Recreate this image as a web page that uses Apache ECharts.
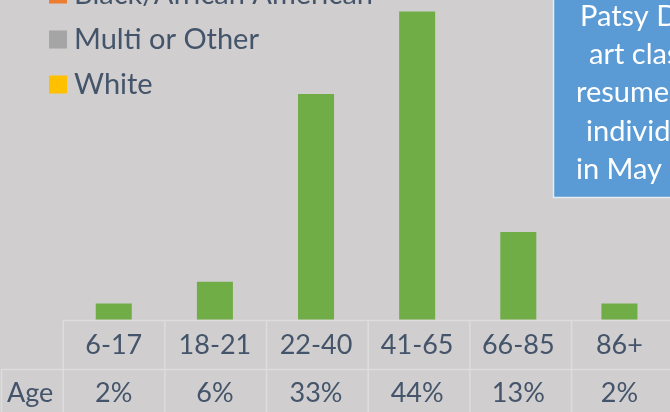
<!DOCTYPE html>
<html>
<head>
<meta charset="utf-8">
<script src="https://cdn.jsdelivr.net/npm/echarts@6/dist/echarts.min.js"></script>
<style>
html,body{margin:0;padding:0;background:#D0CECE;}
#chart{width:670px;height:412px;}
</style>
</head>
<body>
<div id="chart"></div>
<script>
// ---- data ----
const categories = ['6-17', '18-21', '22-40', '41-65', '66-85', '86+'];
const barValues = [2.3, 5.4, 32.2, 44, 12.5, 2.3];          // bar heights (%)
const tableLabels = ['2%', '6%', '33%', '44%', '13%', '2%']; // data-table row
const tableRowName = 'Age';
const legendNames = ['Black/African American', 'Multi or Other', 'White'];
const legendColors = ['#ED7D31', '#A5A5A5', '#FFC000'];
const boxLines = ['Patsy Dunn\u2019s', 'art class', 'resumed', 'individually', 'in May 2021'];

// ---- layout ----
const W = 670, H = 412;
const gridLeft = 63.2, gridWidth = 610, gridTop = 4.5, gridBottomY = 319.5;
const textColor = '#44546A';
const lineColor = '#DEDCDC';
const font = 'Lato';

const chart = echarts.init(document.getElementById('chart'), null, {renderer: 'canvas'});

const catW = gridWidth / categories.length;
const graphics = [];
// table lines
graphics.push({type: 'line', shape: {x1: gridLeft, y1: 320.5, x2: W + 10, y2: 320.5}, style: {stroke: lineColor, lineWidth: 1.5}, silent: true});
graphics.push({type: 'line', shape: {x1: 1.5, y1: 369.5, x2: W + 10, y2: 369.5}, style: {stroke: lineColor, lineWidth: 1.5}, silent: true});
graphics.push({type: 'line', shape: {x1: 1.5, y1: 369.5, x2: 1.5, y2: H + 5}, style: {stroke: lineColor, lineWidth: 1.5}, silent: true});
for (let i = 0; i <= categories.length; i++) {
  const x = gridLeft + i * catW;
  graphics.push({type: 'line', shape: {x1: x, y1: 320.5, x2: x, y2: H + 5}, style: {stroke: lineColor, lineWidth: 1.5}, silent: true});
}
graphics.push({type: 'text', x: 7, y: 393, style: {text: tableRowName, font: '27px ' + font, fill: textColor, verticalAlign: 'middle', align: 'left'}, silent: true, z: 10});
// text box
const boxLeftX = [580, 589, 576, 586, 576];
const boxY = [17, 55, 93, 132, 170];
graphics.push({type: 'rect', shape: {x: 553.5, y: -10, width: 140, height: 207.5}, style: {fill: '#5B9BD5', stroke: '#E4ECF7', lineWidth: 1.5}, z: 20});
boxLines.forEach((t, i) => {
  graphics.push({type: 'text', x: boxLeftX[i], y: boxY[i], style: {text: t, font: '29px ' + font, fill: '#FFFFFF', verticalAlign: 'middle', align: 'left'}, z: 21});
});

const option = {
  backgroundColor: '#D0CECE',
  animation: false,
  legend: {
    orient: 'vertical',
    left: 49,
    top: -20,
    padding: 0,
    itemWidth: 18,
    itemHeight: 18,
    itemGap: 16,
    icon: 'rect',
    data: legendNames,
    textStyle: {fontFamily: font, fontSize: 29, color: textColor, padding: [0, 0, 0, 2]}
  },
  grid: {left: gridLeft, width: gridWidth, top: gridTop, bottom: H - gridBottomY},
  xAxis: [
    {
      type: 'category', data: categories, position: 'bottom',
      axisLine: {show: false}, axisTick: {show: false}, splitLine: {show: false},
      axisLabel: {margin: 25.5, verticalAlign: 'middle', fontFamily: font, fontSize: 27, color: textColor, interval: 0}
    },
    {
      type: 'category', data: tableLabels, position: 'bottom',
      axisLine: {show: false}, axisTick: {show: false}, splitLine: {show: false},
      axisLabel: {margin: 74, verticalAlign: 'middle', fontFamily: font, fontSize: 27, color: textColor, interval: 0}
    }
  ],
  yAxis: {type: 'value', min: 0, max: 45, show: false},
  series: [
    {
      name: 'Age', type: 'bar', xAxisIndex: 0, data: barValues, barWidth: 36,
      itemStyle: {color: '#70AD47'}
    }
  ].concat(legendNames.map((n, i) => ({name: n, type: 'line', data: [], itemStyle: {color: legendColors[i]}}))),
  graphic: graphics
};
chart.setOption(option);
</script>
</body>
</html>
